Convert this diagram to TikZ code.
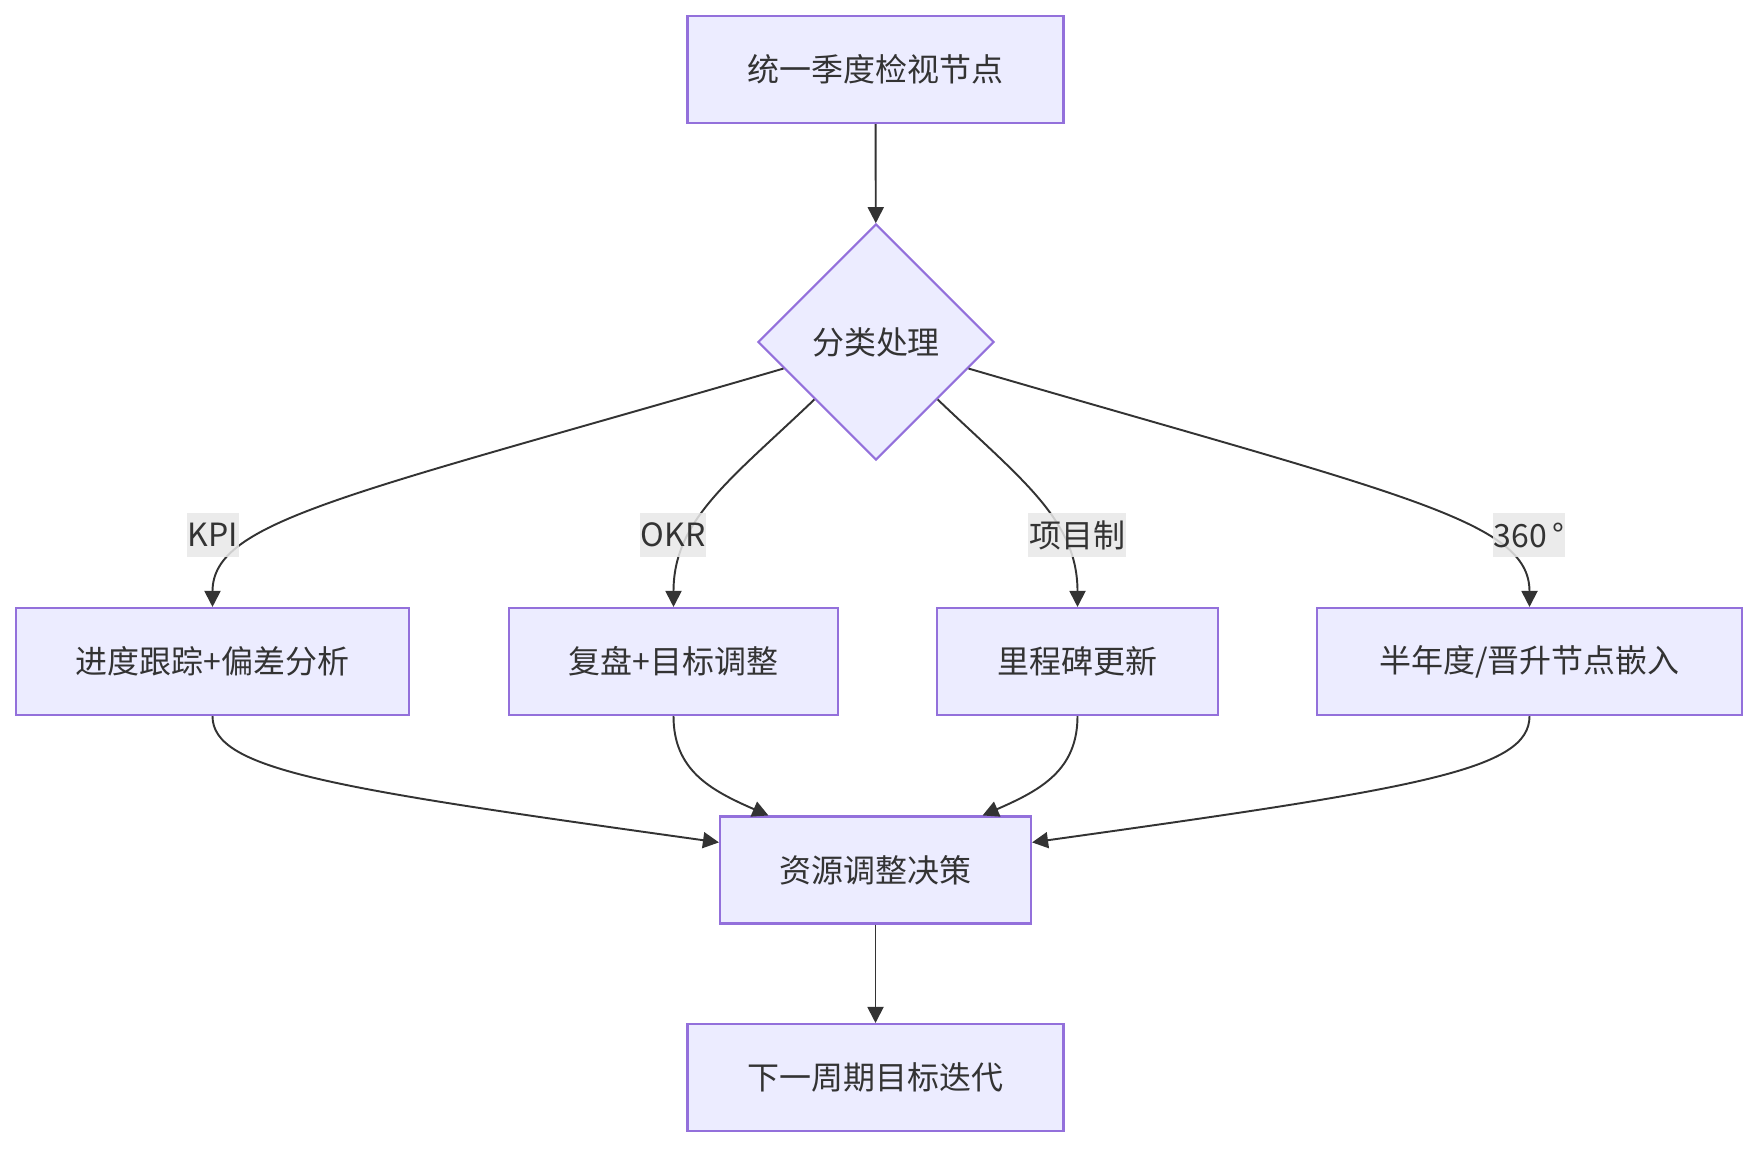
\documentclass[tikz,border=0pt]{standalone}
\usepackage{fontspec}
\newfontfamily\cjk{Noto Sans CJK SC}
\usepackage{tikz}
\usetikzlibrary{arrows.meta,shapes.geometric}
\definecolor{boxfill}{HTML}{ECECFF}
\definecolor{boxline}{HTML}{9370DB}
\definecolor{ink}{HTML}{333333}
\definecolor{lblgray}{HTML}{E8E8E8}

\begin{document}
\begin{tikzpicture}[
  box/.style={draw=boxline, line width=0.6pt, fill=boxfill, align=center, minimum height=1.07cm, inner sep=0pt, text=ink},
  dec/.style={diamond, draw=boxline, line width=0.6pt, fill=boxfill, minimum size=2.36cm, inner sep=0pt, text=ink},
  lbl/.style={fill=lblgray, fill opacity=0.85, text opacity=1, text=ink, inner xsep=0.2pt, inner ysep=0pt, minimum height=0.44cm},
  edg/.style={-{Triangle[length=1.6mm, width=1.6mm]}, line width=0.55pt, draw=ink},
  every node/.style={font=\cjk\fontsize{9.1pt}{11pt}\selectfont}
]
\useasboundingbox (0,0) rectangle (17.58,-11.48);
\node[box, minimum width=3.76cm] (chk) at (8.755,-0.695) {统一季度检视节点};
\node[dec] (cls) at (8.76,-3.42) {分类处理};
\node[box, minimum width=3.93cm] (kpi) at (2.125,-6.615) {进度跟踪+偏差分析};
\node[box, minimum width=3.29cm] (okr) at (6.735,-6.615) {复盘+目标调整};
\node[box, minimum width=2.81cm] (prj) at (10.775,-6.615) {里程碑更新};
\node[box, minimum width=4.25cm] (p360) at (15.295,-6.615) {半年度/晋升节点嵌入};
\node[box, minimum width=3.11cm] (res) at (8.755,-8.70) {资源调整决策};
\node[box, minimum width=3.76cm] (nxt) at (8.755,-10.775) {下一周期目标迭代};
\draw[edg] (chk) -- (cls);
\draw[edg] (cls.196) .. controls (3.5,-4.95) and (2.125,-5.2) .. (kpi.north);
\draw[edg] (cls.223) .. controls (7.3,-4.8) and (6.735,-5.2) .. (okr.north);
\draw[edg] (cls.317) .. controls (10.22,-4.8) and (10.775,-5.2) .. (prj.north);
\draw[edg] (cls.344) .. controls (14.02,-4.95) and (15.295,-5.2) .. (p360.north);
\draw[edg] (kpi.south) .. controls (2.125,-7.7) and (3.3,-7.88) .. (res.170);
\draw[edg] (okr.south) .. controls (6.735,-7.7) and (7.1,-7.9) .. (res.153);
\draw[edg] (prj.south) .. controls (10.775,-7.7) and (10.41,-7.9) .. (res.27);
\draw[edg] (p360.south) .. controls (15.295,-7.7) and (14.21,-7.88) .. (res.10);
\draw[edg] (res) -- (nxt);
\node[lbl] (lkpi) at (2.13,-5.35) {KPI};
\node[lbl] (lokr) at (6.73,-5.35) {OKR};
\node[lbl] (lprj) at (10.77,-5.35) {项目制};
\node[lbl] (l360) at (15.29,-5.35) {360\hspace{0.05cm}°};
\end{tikzpicture}
\end{document}
